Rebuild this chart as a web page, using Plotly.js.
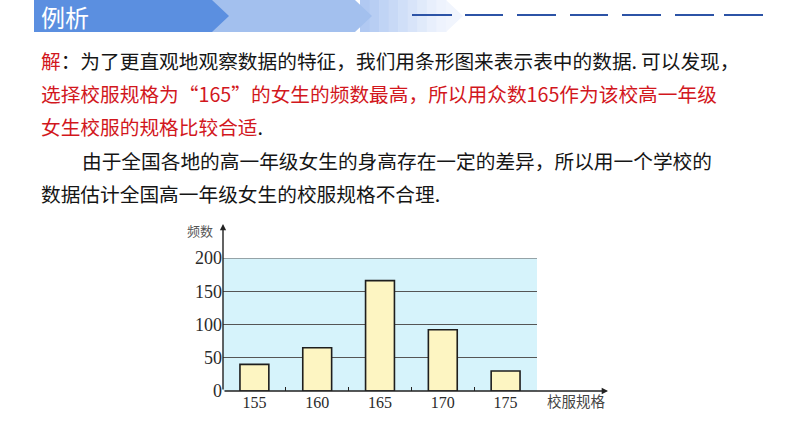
<!DOCTYPE html>
<html>
<head>
<meta charset="utf-8">
<script src="https://cdn.plot.ly/plotly-3.0.1.min.js"></script>
<style>html,body{margin:0;padding:0;background:#fff;}#chart{width:794px;height:447px;}</style>
</head>
<body>
<div id="chart"></div>
<script>
// ---- data ----
const sizes = ['155', '160', '165', '170', '175'];      // 校服规格
const counts = [40, 65, 166, 92, 30];                    // 频数
const yTicks = [0, 50, 100, 150, 200];

// ---- text ----
const RED = '#d2171d';
const headerText = '例析';
const textLines = [
  '<span style="color:' + RED + '">解</span>：为了更直观地观察数据的特征，我们用条形图来表示表中的数据.\u2009可以发现，',
  '<span style="color:' + RED + '">选择校服规格为“165”的女生的频数最高，所以用众数165作为该校高一年级</span>',
  '<span style="color:' + RED + '">女生校服的规格比较合适</span>.',
  '由于全国各地的高一年级女生的身高存在一定的差异，所以用一个学校的',
  '数据估计全国高一年级女生的校服规格不合理.'
];
const yTitle = '频数';
const xTitle = '校服规格';

// ---- layout helpers (pixel -> paper) ----
const L = 223, R = 537, T = 258, B = 391;
const px = x => (x - L) / (R - L);
const py = y => (B - y) / (B - T);
function poly(pts, color) {
  const d = pts.map((p, i) => (i ? 'L' : 'M') + px(p[0]) + ',' + py(p[1])).join(' ') + ' Z';
  return {type: 'path', xref: 'paper', yref: 'paper', path: d, fillcolor: color, line: {width: 0}, layer: 'below'};
}
function seg(x0, x1, y, color) {
  return {type: 'line', xref: 'paper', yref: 'paper', x0: px(x0), x1: px(x1), y0: py(y), y1: py(y),
          line: {color: color, width: 2}};
}

const shapes = [];
// light gradient chevron (third)
const gradCols = ['#b1c9f2', '#b8cef3', '#c0d4f5', '#c8d9f6', '#d0dff8', '#d8e4f9', '#e0eafa', '#e8effc', '#eef3fd'];
const gx0 = 360, gx1 = 446;
for (let i = 0; i < gradCols.length; i++) {
  const a = gx0 + (gx1 - gx0) * i / gradCols.length;
  const b = gx0 + (gx1 - gx0) * (i + 1) / gradCols.length + 0.5;
  shapes.push(poly([[a, 0], [b, 0], [b, 32], [a, 32]], gradCols[i]));
}
shapes.push(poly([[446, 0], [463, 16], [446, 32]], '#f1f5fd'));
// second chevron
shapes.push(poly([[205, 0], [355, 0], [372, 16], [355, 32], [205, 32]], '#a3c0ee'));
// first chevron
shapes.push(poly([[34, 0], [212, 0], [229, 16], [212, 32], [34, 32]], '#5b8fe0'));
// dashes
[[412, 452], [465, 503], [517, 556], [570, 608], [622, 661], [675, 714], [724, 763]].forEach(d => {
  shapes.push(seg(d[0], d[1], 15, '#2c53a6'));
});
// top gridline (drawn on plot edge)
shapes.push({type: 'line', xref: 'paper', yref: 'y', x0: 0, x1: 1,
  y0: yTicks[yTicks.length - 1], y1: yTicks[yTicks.length - 1], line: {color: '#555', width: 1.2}, layer: 'above'});

const annotations = [];
annotations.push({xref: 'paper', yref: 'paper', x: px(39), y: py(16), xanchor: 'left', yanchor: 'middle',
  text: headerText, showarrow: false, font: {family: 'Noto Sans CJK SC', size: 24, color: '#ffffff'}});
const lineY = [60, 93.3, 126.7, 160, 193.3];
const lineX = [40, 40, 40, 81, 40];
textLines.forEach((t, i) => {
  annotations.push({xref: 'paper', yref: 'paper', x: px(lineX[i] - 1), y: py(lineY[i]), xanchor: 'left', yanchor: 'middle',
    text: t, showarrow: false, font: {family: 'Noto Sans CJK SC', size: 19.7, color: '#151515'}});
});
// axis titles
annotations.push({xref: 'paper', yref: 'paper', x: px(200), y: py(230), xanchor: 'center', yanchor: 'middle',
  text: yTitle, showarrow: false, font: {family: 'Noto Sans CJK SC', size: 13, color: '#555'}});
annotations.push({xref: 'paper', yref: 'paper', x: px(576), y: py(400), xanchor: 'center', yanchor: 'middle',
  text: xTitle, showarrow: false, font: {family: 'Noto Sans CJK SC', size: 14.5, color: '#444'}});
// axis arrows
annotations.push({xref: 'paper', yref: 'paper', x: px(223), y: py(224), ax: 0, ay: 167, text: '',
  showarrow: true, arrowhead: 2, arrowsize: 0.9, arrowwidth: 1.4, arrowcolor: '#222', standoff: 0, startstandoff: 0});
annotations.push({xref: 'paper', yref: 'paper', x: px(608), y: py(391), ax: -385, ay: 0, text: '',
  showarrow: true, arrowhead: 2, arrowsize: 0.9, arrowwidth: 1.4, arrowcolor: '#222', standoff: 0, startstandoff: 0});

const trace = {
  type: 'bar', x: sizes, y: counts,
  marker: {color: '#fdf5c2', line: {color: '#1e1e1e', width: 1.6}},
  hoverinfo: 'skip'
};

const layout = {
  width: 794, height: 447,
  margin: {l: L, r: 794 - R, t: T, b: 447 - B, pad: 0},
  paper_bgcolor: '#ffffff', plot_bgcolor: '#d6f3fb',
  showlegend: false, bargap: 0.54,
  xaxis: {
    type: 'category', categoryarray: sizes, range: [-0.5, 4.5], fixedrange: true,
    tickson: 'boundaries', ticks: 'inside', ticklen: 4, tickwidth: 1.2, tickcolor: '#222',
    showgrid: false, zeroline: false, showline: false,
    tickfont: {family: 'Liberation Serif', size: 16, color: '#2a2a2a'}
  },
  yaxis: {
    range: [0, 200], tickvals: yTicks, fixedrange: true,
    showgrid: true, gridcolor: '#555', gridwidth: 1.2, zeroline: false, showline: false, ticks: '',
    tickfont: {family: 'Liberation Serif', size: 18, color: '#2a2a2a'}
  },
  shapes: shapes,
  annotations: annotations
};

Plotly.newPlot('chart', [trace], layout, {staticPlot: true, displayModeBar: false});
</script>
</body>
</html>
